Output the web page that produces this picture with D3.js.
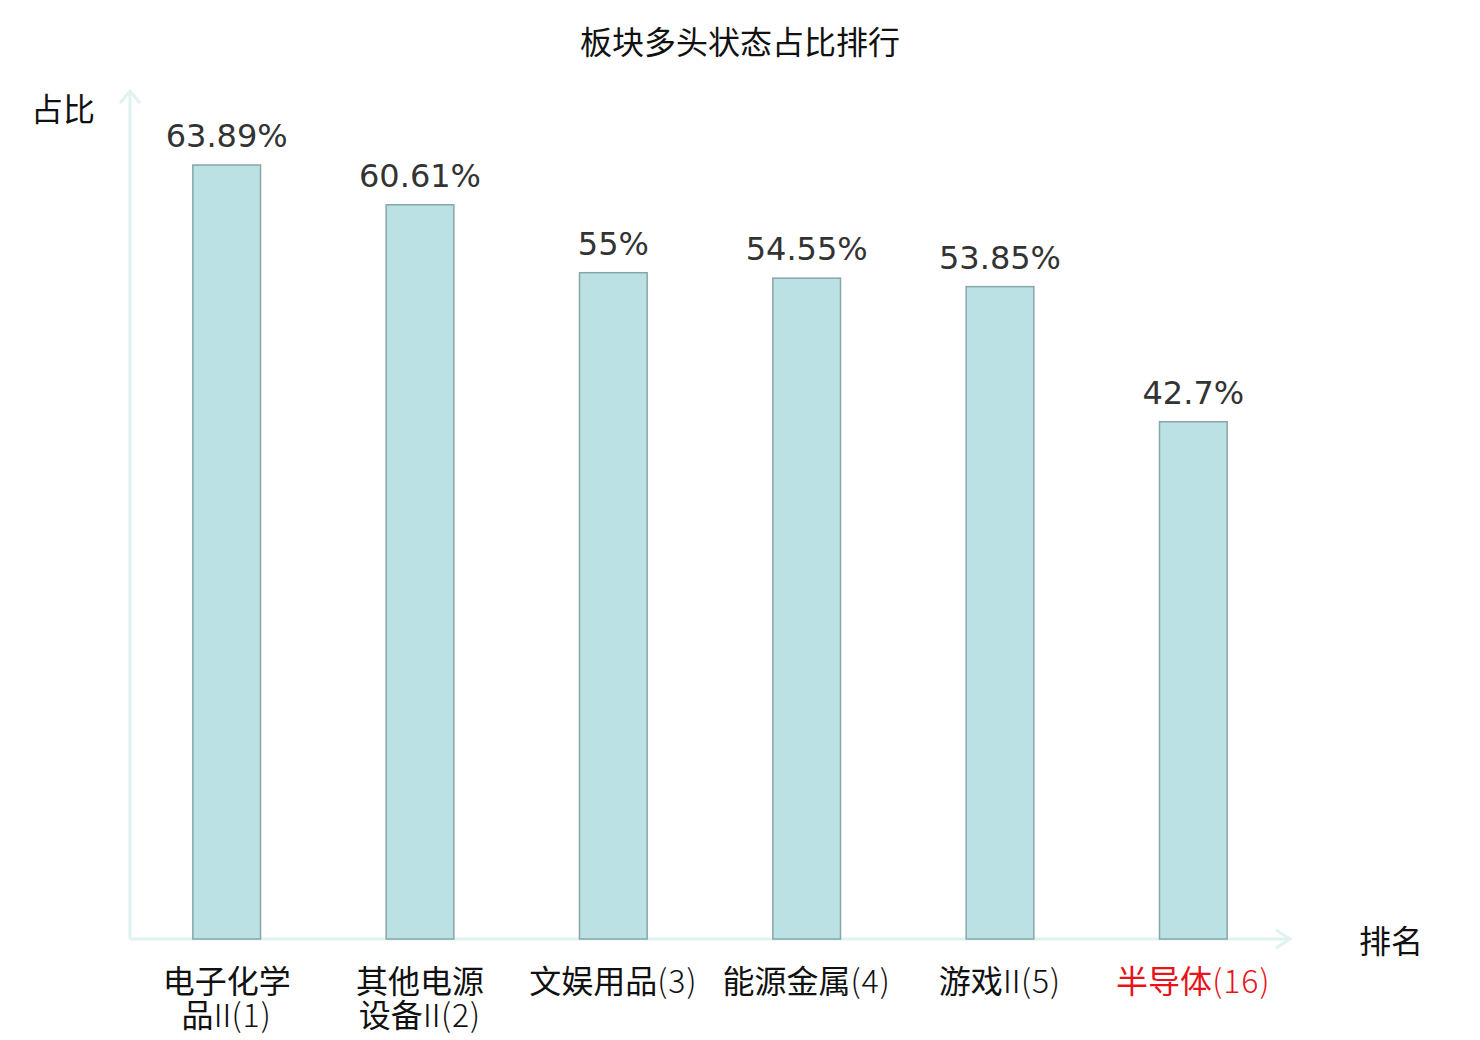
<!DOCTYPE html>
<html>
<head>
<meta charset="utf-8">
<script src="https://cdn.jsdelivr.net/npm/d3@7"></script>
<style>
  body { margin: 0; background: #fff; }
  svg { display: block; }
</style>
</head>
<body>
<svg class="vis" width="1480" height="1040"></svg>
<script>
// chart values
const categories = ["电子化学品Ⅱ(1)", "其他电源设备Ⅱ(2)", "文娱用品(3)", "能源金属(4)", "游戏Ⅱ(5)", "半导体(16)"];
const shares = [63.89, 60.61, 55, 54.55, 53.85, 42.7];
const highlighted = ["半导体(16)"];
const title = "板块多头状态占比排行";
const yTitle = "占比";
const xTitle = "排名";

const cjk = "'Noto Sans CJK SC', 'Noto Sans', sans-serif";
const num = "'DejaVu Sans', sans-serif";
const axisColor = "#dff2ef";
const fs = 32;

const svg = d3.select("svg.vis");

const x = d3.scaleBand()
    .domain(categories)
    .range([130, 1290])
    .paddingInner(0.65)
    .paddingOuter(0.325);

const y = d3.scaleLinear()
    .domain([0, 70])
    .range([939, 91]);

// title
svg.append("text")
    .attr("x", 740).attr("y", 54)
    .attr("text-anchor", "middle")
    .attr("font-family", cjk)
    .attr("font-size", fs)
    .attr("fill", "#111")
    .text(title);

// axes with arrows
const axes = svg.append("g")
    .attr("stroke", axisColor)
    .attr("stroke-width", 3)
    .attr("fill", "none");

axes.append("line")
    .attr("x1", 130).attr("x2", 130)
    .attr("y1", y(0)).attr("y2", y(70));
axes.append("path")
    .attr("d", `M120,${y(70) + 12}L130,${y(70)}L140,${y(70) + 12}`);

axes.append("line")
    .attr("x1", 130).attr("x2", 1290)
    .attr("y1", y(0)).attr("y2", y(0));
axes.append("path")
    .attr("d", `M1276,${y(0) - 9}L1290,${y(0)}L1276,${y(0) + 9}`);

svg.append("text")
    .attr("x", 63).attr("y", 121)
    .attr("text-anchor", "middle")
    .attr("font-family", cjk)
    .attr("font-size", fs)
    .attr("fill", "#111")
    .text(yTitle);

svg.append("text")
    .attr("x", 1391).attr("y", 953)
    .attr("text-anchor", "middle")
    .attr("font-family", cjk)
    .attr("font-size", fs)
    .attr("fill", "#111")
    .text(xTitle);

// bars
svg.append("g")
    .selectAll("rect")
    .data(shares)
    .join("rect")
    .attr("x", (d, i) => x(categories[i]))
    .attr("y", d => y(d))
    .attr("width", x.bandwidth())
    .attr("height", d => y(0) - y(d))
    .attr("fill", "#bce1e4")
    .attr("stroke", "#88a6a8")
    .attr("stroke-width", 1.5);

// value labels
svg.append("g")
    .selectAll("text")
    .data(shares)
    .join("text")
    .attr("x", (d, i) => x(categories[i]) + x.bandwidth() / 2)
    .attr("y", d => y(d) - 18)
    .attr("text-anchor", "middle")
    .attr("font-family", num)
    .attr("font-size", fs)
    .attr("fill", "#333")
    .text(d => d + "%");

// category labels: CJK part regular, the rest light; Ⅱ squeezed in tight
function fill_label(t, s) {
    const m = s.match(/^([\u4e00-\u9fff]*)(Ⅱ?)(.*)$/);
    t.append("tspan").text(m[1]);
    if (m[2]) {
        t.append("tspan").attr("font-weight", 300).attr("dx", -7).text(m[2]);
    }
    t.append("tspan")
        .attr("font-weight", 300)
        .attr("letter-spacing", 1)
        .attr("dx", m[2] ? -7 : 0)
        .text(m[3]);
}

const labels = svg.append("g")
    .selectAll("text")
    .data(categories)
    .join("text")
    .attr("x", d => x(d) + x.bandwidth() / 2)
    .attr("y", 993)
    .attr("text-anchor", "middle")
    .attr("font-family", cjk)
    .attr("font-size", fs)
    .attr("fill", d => highlighted.includes(d) ? "#e8141b" : "#111");

// wrap after 4 chars when wider than a band step
labels.each(function(d) {
    const t = d3.select(this);
    fill_label(t, d);
    if (this.getComputedTextLength() > x.step()) {
        const cx = t.attr("x");
        t.selectAll("*").remove();
        t.append("tspan").attr("x", cx).attr("dy", 0).text(d.slice(0, 4));
        const second = t.append("tspan").attr("x", cx).attr("dy", 34);
        fill_label(second, d.slice(4));
    }
});
</script>
</body>
</html>
